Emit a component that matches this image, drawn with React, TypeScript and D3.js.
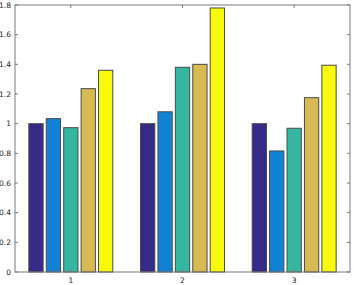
import React from 'react';
import * as d3 from 'd3';

const groups = ['1', '2', '3'];
const series = ['s1', 's2', 's3', 's4', 's5'];
const values = [
  [1.0, 1.034, 0.973, 1.236, 1.36],
  [1.0, 1.08, 1.38, 1.4, 1.78],
  [1.0, 0.816, 0.969, 1.175, 1.394],
];
const colors = ['#352a87', '#1283d4', '#33b7a0', '#d8ba55', '#f8fa0d'];
const yTicks = [0, 0.2, 0.4, 0.6, 0.8, 1, 1.2, 1.4, 1.6, 1.8];

const W = 354, H = 285;
const m = { left: 15, right: 4, top: 5, bottom: 13 };

export default function App() {
  const x = d3.scaleLinear().domain([0.5, 3.5]).range([m.left, W - m.right]);
  const y = d3.scaleLinear().domain([0, 1.8]).range([H - m.bottom, m.top]);
  const n = series.length;
  const groupW = 0.78;
  const step = groupW / n;
  const barW = step * 0.82;
  const axis = '#7a7a7a';
  const tk = 3;

  return (
    <svg width={W} height={H} style={{ position: 'absolute', left: 0, top: 0, fontFamily: 'DejaVu Sans, sans-serif' }}>
      <rect x={0} y={0} width={W} height={H} fill="#fff" />
      {values.map((row, gi) =>
        row.map((v, si) => {
          const cx = gi + 1 - groupW / 2 + step * (si + 0.5);
          const x0 = x(cx - barW / 2);
          const x1 = x(cx + barW / 2);
          return (
            <rect key={`${gi}-${si}`} x={x0} y={y(v)} width={x1 - x0} height={y(0) - y(v)}
              fill={colors[si]} stroke="#4a4a4a" strokeWidth={1} />
          );
        })
      )}
      <rect x={m.left} y={m.top} width={W - m.left - m.right} height={H - m.top - m.bottom}
        fill="none" stroke={axis} strokeWidth={1} />
      {yTicks.map(t => (
        <g key={t}>
          <line x1={m.left} x2={m.left + tk} y1={y(t)} y2={y(t)} stroke={axis} />
          <line x1={W - m.right} x2={W - m.right - tk} y1={y(t)} y2={y(t)} stroke={axis} />
          <text x={m.left - 4} y={y(t)} dy="0.35em" textAnchor="end" fontSize={7.5} fill="#222">{t}</text>
        </g>
      ))}
      {groups.map((g, i) => (
        <g key={g}>
          <line x1={x(i + 1)} x2={x(i + 1)} y1={y(0)} y2={y(0) - tk} stroke={axis} />
          <line x1={x(i + 1)} x2={x(i + 1)} y1={m.top} y2={m.top + tk} stroke={axis} />
          <text x={x(i + 1)} y={H - m.bottom + 10.5} textAnchor="middle" fontSize={7.5} fill="#222">{g}</text>
        </g>
      ))}
    </svg>
  );
}
